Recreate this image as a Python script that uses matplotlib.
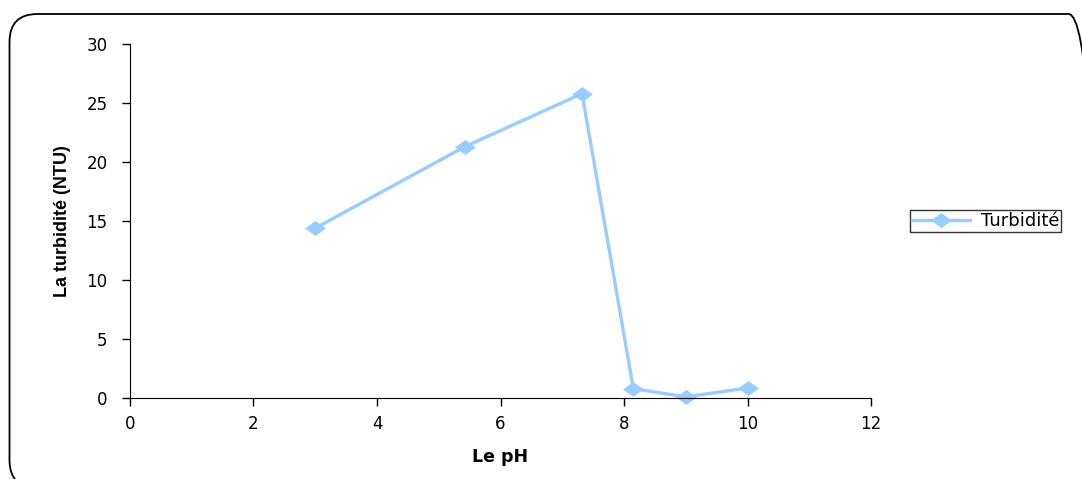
import matplotlib.pyplot as plt
from matplotlib.patches import FancyBboxPatch
from matplotlib.transforms import IdentityTransform

ph = [3.0, 5.42, 7.32, 8.15, 9.0, 10.0]
turbidite = [14.4, 21.3, 25.8, 0.8, 0.1, 0.85]

couleur = '#99CCFF'
police = 'DejaVu Sans'

# losange un peu plus large que haut, comme dans Excel
losange = [(-1, 0), (0, 0.72), (1, 0), (0, -0.72), (-1, 0)]

fig = plt.figure(figsize=(10.82, 4.79), dpi=100)

# cadre arrondi autour du graphique (en pixels)
cadre = FancyBboxPatch((9.5, -9), 1087, 474, boxstyle="round,pad=0,rounding_size=28",
                       transform=IdentityTransform(), facecolor='none', edgecolor='black',
                       linewidth=1.3, zorder=-1)
fig.patches.append(cadre)

ax = fig.add_axes([0.1201, 0.169, 0.685, 0.739])
ax.patch.set_alpha(0)
ax.plot(ph, turbidite, color=couleur, linewidth=2.4, marker=losange, markersize=15,
        markeredgewidth=0, label='Turbidité', clip_on=False)

ax.set_xlim(0, 12)
ax.set_ylim(0, 30)
ax.set_xticks(range(0, 13, 2))
ax.set_yticks(range(0, 31, 5))
ax.spines['top'].set_visible(False)
ax.spines['right'].set_visible(False)
ax.tick_params(direction='out', length=6, width=1, labelsize=12)
ax.tick_params(axis='x', pad=6)
ax.tick_params(axis='y', pad=10)
for lab in ax.get_xticklabels() + ax.get_yticklabels():
    lab.set_family(police)

ax.set_xlabel('Le pH', fontsize=12.5, fontweight='bold', family=police, labelpad=11)
ax.set_ylabel('La turbidité (NTU)', fontsize=13, fontweight='bold',
              family=['Liberation Sans Narrow', 'Liberation Sans'], labelpad=11)

leg = ax.legend(loc='center left', bbox_to_anchor=(1.053, 0.5), frameon=True, fancybox=False,
                edgecolor='black', prop={'family': police, 'size': 13},
                handlelength=3.2, handletextpad=0.6, borderpad=0.1, borderaxespad=0)
leg.get_frame().set_linewidth(1)

fig.savefig('out.png', dpi=100)
